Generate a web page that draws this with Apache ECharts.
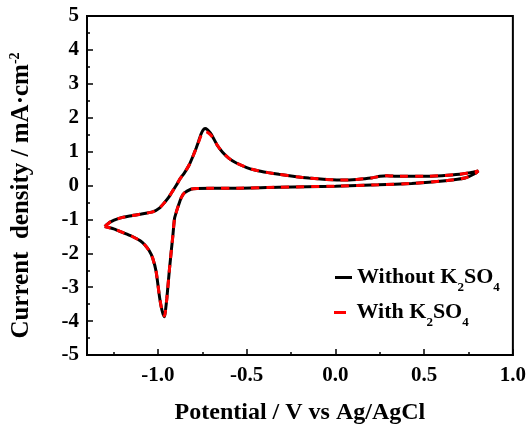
<!DOCTYPE html>
<html>
<head>
<meta charset="utf-8">
<script src="https://cdn.jsdelivr.net/npm/echarts@6/dist/echarts.min.js"></script>
<style>
  html, body { margin: 0; padding: 0; background: #fff; }
  #main { width: 529px; height: 430px; }
</style>
</head>
<body>
<div id="main"></div>
<script>
  // potential (V vs Ag/AgCl): upper branch left -> right, then lower branch right -> left
  var potentialUpper = [-1.30, -1.27, -1.22, -1.16, -1.10, -1.03, -0.99, -0.963, -0.94, -0.916, -0.895, -0.879,
    -0.85, -0.823, -0.80, -0.785, -0.77, -0.757, -0.745, -0.735, -0.722, -0.705, -0.692, -0.665, -0.636,
    -0.60, -0.561, -0.50, -0.449, -0.38, -0.318, -0.22, -0.15, -0.05, 0.05, 0.12, 0.20, 0.25, 0.29, 0.35,
    0.50, 0.60, 0.70, 0.76, 0.805];
  var potentialLower = [0.79, 0.73, 0.62, 0.43, 0.24, 0.0, -0.32, -0.55, -0.69, -0.78, -0.815, -0.851, -0.868,
    -0.879, -0.893, -0.907, -0.916, -0.935, -0.95, -0.958, -0.963, -0.972, -0.981, -0.991, -1.01, -1.03,
    -1.05, -1.075, -1.10, -1.15, -1.197, -1.25, -1.30];

  // current density (mA/cm2)
  var withoutUpper = [-1.21, -1.08, -0.97, -0.90, -0.85, -0.78, -0.66, -0.50, -0.35, -0.15, 0.02, 0.17,
    0.38, 0.62, 0.90, 1.10, 1.32, 1.52, 1.64, 1.68, 1.65, 1.55, 1.44, 1.18, 0.98,
    0.80, 0.67, 0.53, 0.45, 0.38, 0.33, 0.26, 0.22, 0.18, 0.16, 0.18, 0.22, 0.27, 0.29, 0.27,
    0.27, 0.29, 0.33, 0.38, 0.43];
  var withoutLower = [0.36, 0.22, 0.14, 0.06, 0.02, -0.02, -0.05, -0.08, -0.08, -0.09, -0.11, -0.22, -0.35,
    -0.50, -0.72, -0.98, -1.47, -2.45, -3.33, -3.70, -3.87, -3.78, -3.60, -3.30, -2.55, -2.14,
    -1.92, -1.75, -1.63, -1.49, -1.39, -1.28, -1.21];
  var withUpper = [-1.21, -1.08, -0.97, -0.90, -0.85, -0.78, -0.66, -0.50, -0.35, -0.15, 0.02, 0.17,
    0.38, 0.62, 0.90, 1.10, 1.30, 1.48, 1.56, 1.59, 1.57, 1.50, 1.42, 1.18, 0.98,
    0.80, 0.67, 0.53, 0.45, 0.38, 0.33, 0.26, 0.22, 0.18, 0.16, 0.18, 0.22, 0.27, 0.29, 0.27,
    0.27, 0.29, 0.33, 0.38, 0.43];
  var withLower = [0.36, 0.22, 0.14, 0.06, 0.02, -0.02, -0.05, -0.08, -0.08, -0.09, -0.11, -0.22, -0.35,
    -0.50, -0.72, -0.98, -1.47, -2.45, -3.33, -3.70, -3.85, -3.78, -3.60, -3.30, -2.55, -2.14,
    -1.92, -1.75, -1.63, -1.49, -1.39, -1.28, -1.21];

  var xMajorTicks = [-1.0, -0.5, 0.0, 0.5, 1.0];
  var xMinorTicks = [-1.25, -0.75, -0.25, 0.25, 0.75];

  function pairs(xs, ys) {
    return xs.map(function (x, i) { return [x, ys[i]]; });
  }
  var dataWithout = pairs(potentialUpper.concat(potentialLower), withoutUpper.concat(withoutLower));
  var dataWith = pairs(potentialUpper.concat(potentialLower), withUpper.concat(withLower));

  var font = 'Liberation Serif';
  var legendRich = {
    b: { fontFamily: font, fontWeight: 'bold', fontSize: 22, lineHeight: 23, color: '#000', verticalAlign: 'top' },
    s: { fontFamily: font, fontWeight: 'bold', fontSize: 13, lineHeight: 13, color: '#000', verticalAlign: 'top', padding: [15, 0, 4, 0] }
  };

  var chart = echarts.init(document.getElementById('main'));
  var option = {
    animation: false,
    backgroundColor: '#fff',
    grid: {
      show: true,
      left: 87,
      right: 14,
      top: 16,
      bottom: 73,
      borderColor: '#000',
      borderWidth: 2
    },
    legend: [{
      data: [{ name: 'Without K2SO4', icon: 'rect' }],
      left: 335,
      top: 266,
      padding: 0,
      itemWidth: 17,
      itemHeight: 3,
      formatter: function () { return '{b|Without K}{s|2}{b|SO}{s|4}'; },
      textStyle: { rich: legendRich }
    }, {
      data: [{ name: 'With K2SO4', icon: 'rect' }],
      left: 334,
      top: 301,
      padding: 0,
      itemWidth: 12,
      itemHeight: 3,
      formatter: function () { return '{b| With K}{s|2}{b|SO}{s|4}'; },
      textStyle: { rich: legendRich }
    }],
    xAxis: [{
      type: 'value',
      min: -1.4,
      max: 1.0,
      position: 'bottom',
      name: 'Potential / V vs Ag/AgCl',
      nameLocation: 'middle',
      nameGap: 46,
      nameTextStyle: { fontFamily: font, fontWeight: 'bold', fontSize: 24, color: '#000' },
      axisLine: { show: true, onZero: false, lineStyle: { color: '#000', width: 2 } },
      axisTick: { show: true, inside: true, length: 6, customValues: xMajorTicks, lineStyle: { color: '#000', width: 1.5 } },
      axisLabel: {
        customValues: xMajorTicks,
        formatter: function (v) { return v.toFixed(1); },
        fontFamily: font, fontWeight: 'bold', fontSize: 21, color: '#000', margin: 10
      },
      splitLine: { show: false }
    }, {
      type: 'value',
      min: -1.4,
      max: 1.0,
      position: 'bottom',
      axisLine: { show: false, onZero: false },
      axisTick: { show: true, inside: true, length: 3, customValues: xMinorTicks, lineStyle: { color: '#000', width: 1.5 } },
      axisLabel: { show: false },
      splitLine: { show: false }
    }],
    yAxis: {
      type: 'value',
      min: -5,
      max: 5,
      interval: 1,
      name: '{m|Current  density / mA·cm}{sup|-2}',
      nameLocation: 'middle',
      nameGap: 53,
      nameRotate: 90,
      nameTextStyle: {
        padding: [0, 20, 0, 0],
        rich: {
          m: { fontFamily: font, fontWeight: 'bold', fontSize: 25, lineHeight: 26, color: '#000', verticalAlign: 'bottom' },
          sup: { fontFamily: font, fontWeight: 'bold', fontSize: 14, lineHeight: 14, color: '#000', verticalAlign: 'top' }
        }
      },
      axisLine: { show: true, onZero: false, lineStyle: { color: '#000', width: 2 } },
      axisTick: { show: true, inside: true, length: 6, lineStyle: { color: '#000', width: 1.5 } },
      minorTick: { show: true, splitNumber: 2, length: 3, lineStyle: { color: '#000', width: 1.5 } },
      axisLabel: { fontFamily: font, fontWeight: 'bold', fontSize: 21, color: '#000', margin: 8 },
      splitLine: { show: false }
    },
    series: [{
      name: 'Without K2SO4',
      type: 'line',
      xAxisIndex: 0,
      data: dataWithout,
      showSymbol: false,
      smooth: 0.15,
      color: '#000',
      lineStyle: { color: '#000', width: 3 },
      z: 2
    }, {
      name: 'With K2SO4',
      type: 'line',
      xAxisIndex: 0,
      data: dataWith,
      showSymbol: false,
      smooth: 0.15,
      color: '#ff0000',
      lineStyle: { color: '#ff0000', width: 3, type: [8, 7] },
      z: 3
    }]
  };
  chart.setOption(option);
</script>
</body>
</html>
